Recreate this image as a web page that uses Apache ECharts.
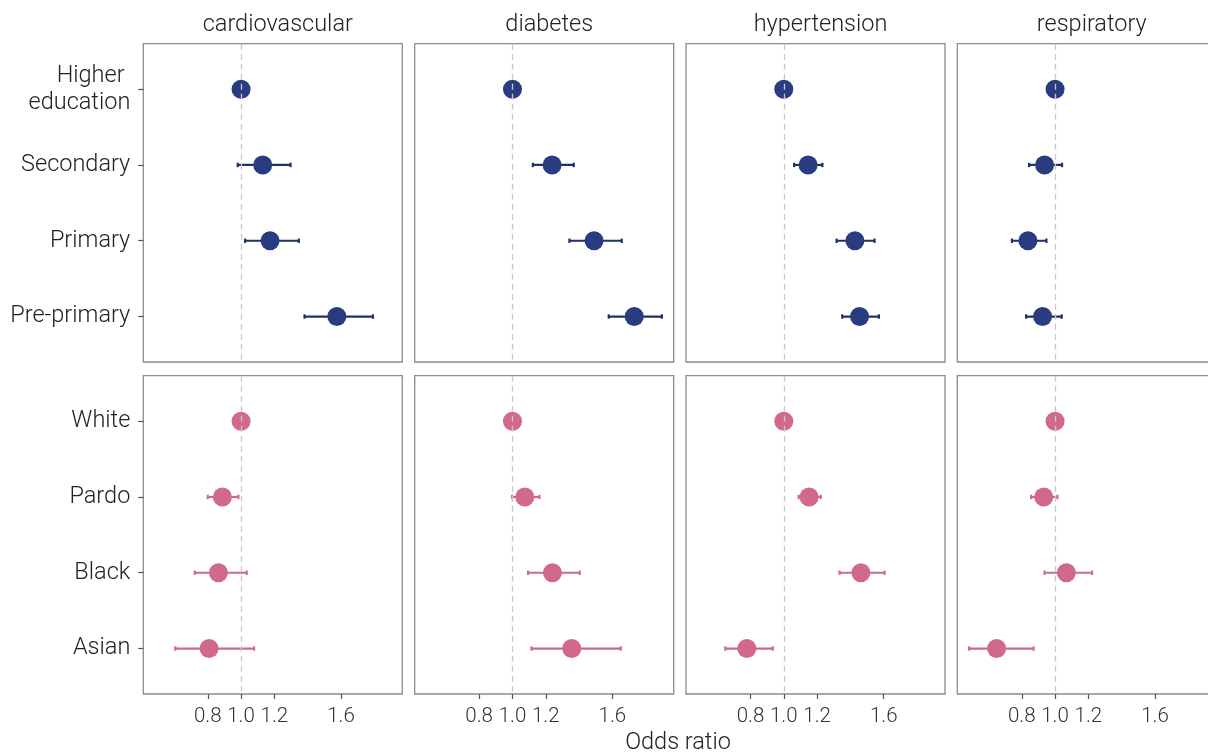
<!DOCTYPE html>
<html>
<head>
<meta charset="utf-8">
<script src="https://cdn.jsdelivr.net/npm/echarts@6/dist/echarts.min.js"></script>
<style>
html,body{margin:0;padding:0;background:#fff;}
#chart{width:1208px;height:756px;}
</style>
</head>
<body>
<div id="chart"></div>
<script>
// ---- Data ----
const outcomes = ['cardiovascular', 'diabetes', 'hypertension', 'respiratory'];
const eduLevels = ['Higher \neducation', 'Secondary', 'Primary', 'Pre-primary'];
const raceGroups = ['White', 'Pardo', 'Black', 'Asian'];
const xTickValues = [0.8, 1.0, 1.2, 1.6];

// odds ratios per outcome (rows: outcomes, cols: levels)
const eduOR = [
  [1.00, 1.13, 1.174, 1.575],
  [1.00, 1.238, 1.49, 1.731],
  [1.00, 1.146, 1.427, 1.455],
  [1.00, 0.937, 0.837, 0.925]
];
const eduLo = [
  [null, 0.98, 1.024, 1.381],
  [null, 1.122, 1.342, 1.578],
  [null, 1.062, 1.317, 1.351],
  [null, 0.844, 0.741, 0.826]
];
const eduHi = [
  [null, 1.297, 1.347, 1.792],
  [null, 1.368, 1.656, 1.897],
  [null, 1.232, 1.545, 1.571],
  [null, 1.042, 0.948, 1.04]
];
const raceOR = [
  [1.00, 0.888, 0.864, 0.808],
  [1.00, 1.074, 1.24, 1.356],
  [1.00, 1.152, 1.463, 0.778],
  [1.00, 0.932, 1.068, 0.649]
];
const raceLo = [
  [null, 0.80, 0.722, 0.605],
  [null, 0.998, 1.094, 1.114],
  [null, 1.09, 1.335, 0.649],
  [null, 0.856, 0.937, 0.484]
];
const raceHi = [
  [null, 0.984, 1.034, 1.078],
  [null, 1.162, 1.404, 1.65],
  [null, 1.222, 1.605, 0.934],
  [null, 1.014, 1.222, 0.871]
];

// ---- Layout / style ----
const FONT = 'Roboto';
const colLeft = [143.3, 414.7, 686, 957.3];
const rowTop = [43.7, 375.7];
const panelW = 259, panelH = 318.3;
const xMin = 0.413, xMax = 1.968;
const colors = ['#2A3C80', '#D1698A'];
const barColors = ['#1F3266', '#D1698A'];

const chart = echarts.init(document.getElementById('chart'), null, {renderer: 'canvas'});

const grids = [], xAxes = [], yAxes = [], series = [], graphics = [];
const rowsData = [
  {labels: eduLevels, or: eduOR, lo: eduLo, hi: eduHi},
  {labels: raceGroups, or: raceOR, lo: raceLo, hi: raceHi}
];

let idx = 0;
for (let r = 0; r < 2; r++) {
  for (let c = 0; c < 4; c++) {
    grids.push({
      left: colLeft[c], top: rowTop[r], width: panelW, height: panelH,
      show: true, borderColor: '#8c8c8c', borderWidth: 1.3,
      backgroundColor: 'rgba(0,0,0,0)', containLabel: false,
      outerBoundsMode: 'none'
    });
    xAxes.push({
      type: 'value', gridIndex: idx, min: xMin, max: xMax,
      axisLine: {show: false},
      splitLine: {show: false},
      axisTick: {show: r === 1, customValues: xTickValues, length: 5,
        lineStyle: {color: '#555', width: 1.2}},
      axisLabel: {show: r === 1, customValues: xTickValues, margin: 12,
        fontFamily: FONT, fontSize: 20.5, color: '#333', fontWeight: 300,
        formatter: v => v.toFixed(1)}
    });
    const labels = rowsData[r].labels;
    yAxes.push({
      type: 'value', gridIndex: idx, min: 0.4, max: 4.6, inverse: true,
      axisLine: {show: false},
      splitLine: {show: false},
      axisTick: {show: c === 0, customValues: [1, 2, 3, 4], length: 5,
        lineStyle: {color: '#555', width: 1.2}},
      axisLabel: {show: c === 0, customValues: [1, 2, 3, 4], margin: 13,
        fontFamily: FONT, fontSize: 23.5, color: '#222', fontWeight: 300,
        lineHeight: 27, align: 'right',
        formatter: v => labels[Math.round(v) - 1]}
    });

    // reference line at OR = 1
    series.push({
      type: 'scatter', xAxisIndex: idx, yAxisIndex: idx, data: [],
      symbolSize: 0, silent: true, z: 1,
      markLine: {
        silent: true, symbol: ['none', 'none'], label: {show: false},
        lineStyle: {color: '#c8c8c8', type: [6, 4], width: 1.3},
        data: [{xAxis: 1}]
      }
    });

    const d = rowsData[r];
    const bars = [];
    for (let k = 0; k < 4; k++) {
      if (d.lo[c][k] != null) bars.push([d.lo[c][k], d.hi[c][k], k + 1]);
    }
    const bc = barColors[r];
    series.push({
      type: 'custom', xAxisIndex: idx, yAxisIndex: idx, z: 2,
      data: bars,
      encode: {x: [0, 1], y: 2},
      renderItem: function (params, api) {
        const p0 = api.coord([api.value(0), api.value(2)]);
        const p1 = api.coord([api.value(1), api.value(2)]);
        const h = 2.2;
        const st = {stroke: bc, lineWidth: 2.2};
        return {
          type: 'group',
          children: [
            {type: 'line', shape: {x1: p0[0], y1: p0[1], x2: p1[0], y2: p1[1]}, style: st},
            {type: 'line', shape: {x1: p0[0], y1: p0[1] - h, x2: p0[0], y2: p0[1] + h}, style: st},
            {type: 'line', shape: {x1: p1[0], y1: p1[1] - h, x2: p1[0], y2: p1[1] + h}, style: st}
          ]
        };
      }
    });

    series.push({
      type: 'scatter', xAxisIndex: idx, yAxisIndex: idx, z: 3,
      symbolSize: 19,
      itemStyle: {color: colors[r], opacity: 1},
      data: d.or[c].map((v, k) => [v, k + 1])
    });
    idx++;
  }
}

// strip titles
for (let c = 0; c < 4; c++) {
  graphics.push({
    type: 'text', x: colLeft[c] + panelW / 2 + 5, y: 25,
    style: {text: outcomes[c], fontFamily: FONT, fontSize: 23.5, fontWeight: 300,
      fill: '#222', textAlign: 'center', textVerticalAlign: 'middle'}
  });
}
// x axis name
graphics.push({
  type: 'text', x: 678, y: 743,
  style: {text: 'Odds ratio', fontFamily: FONT, fontSize: 23.5, fontWeight: 300,
    fill: '#222', textAlign: 'center', textVerticalAlign: 'middle'}
});

chart.setOption({
  animation: false,
  backgroundColor: '#fff',
  grid: grids,
  xAxis: xAxes,
  yAxis: yAxes,
  series: series,
  graphic: graphics
});
</script>
</body>
</html>
